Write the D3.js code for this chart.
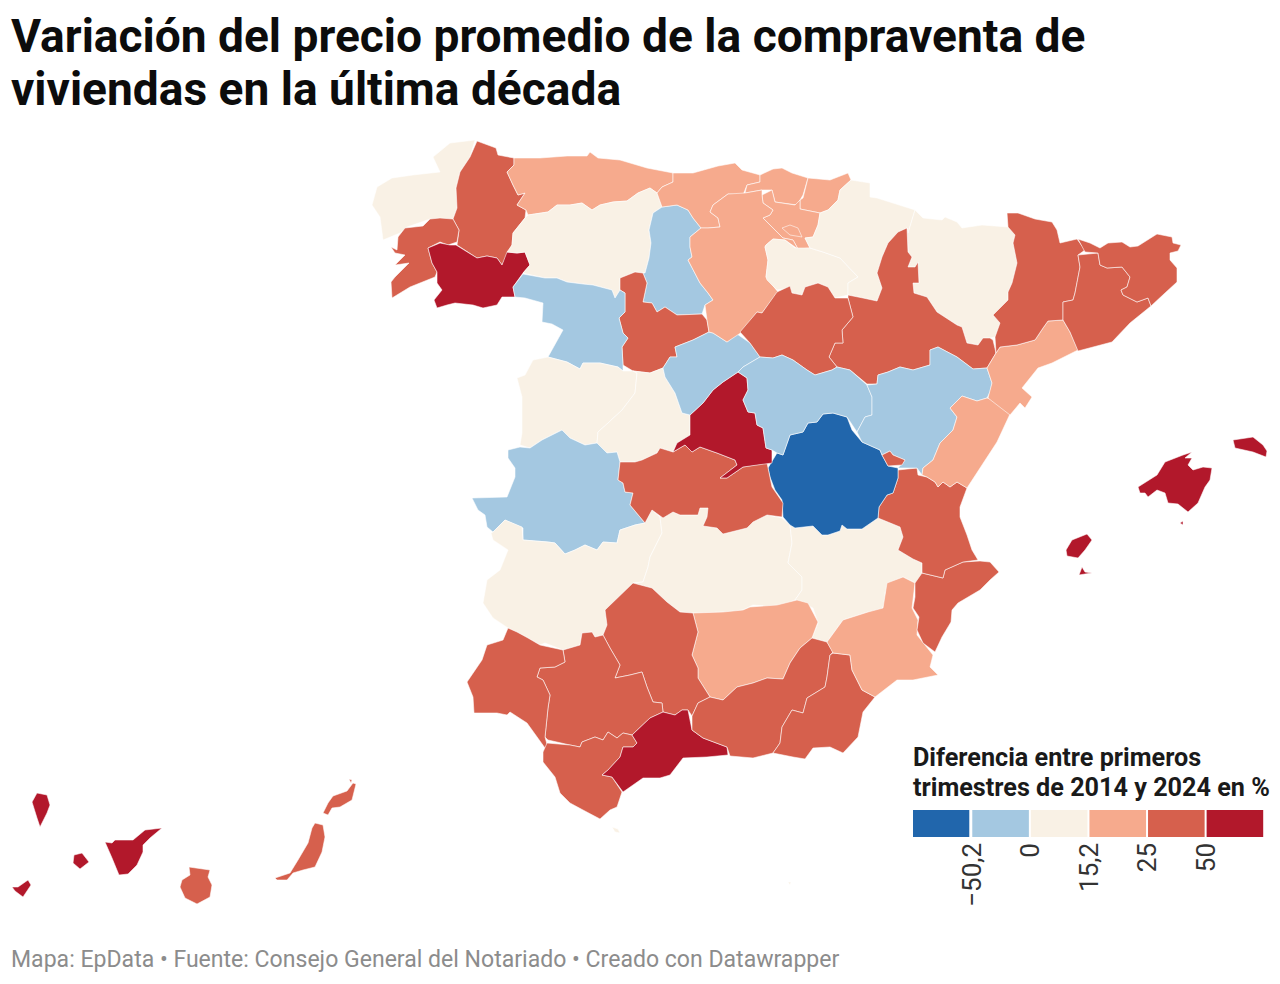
<!DOCTYPE html>
<html>
<head>
<meta charset="utf-8">
<script src="https://cdn.jsdelivr.net/npm/d3@7"></script>
<style>
  html, body { margin: 0; padding: 0; background: #fff; }
  svg { display: block; font-family: Roboto, sans-serif; }
</style>
</head>
<body>
<div class="render"></div>
<script>
// textos
var titleLines = ['Variación del precio promedio de la compraventa de', 'viviendas en la última década'];
var legendLines = ['Diferencia entre primeros', 'trimestres de 2014 y 2024 en %'];
var sourceLine = 'Mapa: EpData • Fuente: Consejo General del Notariado • Creado con Datawrapper';

// leyenda
var thresholds = [-50.2, 0, 15.2, 25, 50];
var thresholdLabels = ['−50,2', '0', '15,2', '25', '50'];
var binColors = ['#2166ac', '#a4c8e1', '#f9f1e5', '#f6aa8d', '#d6604d', '#b2182b'];

// provincias, variación estimada (%) a partir del color
var provinces = ['A Coruña', 'Lugo', 'Pontevedra', 'Ourense', 'Asturias', 'León', 'Palencia', 'Valladolid', 'Zamora',
  'Salamanca', 'Ávila', 'Cáceres', 'Badajoz', 'Ciudad Real', 'Albacete', 'Jaén', 'Córdoba', 'Sevilla', 'Huelva', 'Cádiz',
  'Málaga', 'Granada', 'Almería', 'Murcia', 'Alicante', 'Valencia', 'Cuenca', 'Toledo', 'Madrid', 'Segovia', 'Cantabria',
  'Bizkaia', 'Gipuzkoa', 'Álava', 'Burgos', 'La Rioja', 'Navarra', 'Huesca', 'Zaragoza', 'Soria', 'Guadalajara', 'Teruel',
  'Rincón de Ademuz', 'Castellón', 'Tarragona', 'Lleida', 'Barcelona', 'Girona', 'Condado de Treviño', 'La Palma', 'Tenerife',
  'La Gomera', 'El Hierro', 'Gran Canaria', 'Fuerteventura', 'Lanzarote', 'Baleares', 'Ceuta', 'Melilla'];

var provinceValues = [9, 31, 34, 55, 21, 7, -12, 28, -8, 6, 11, -14, 5, 3, 10, 18, 30, 41, 33, 29,
  62, 36, 38, 20, 44, 39, -52, 27, 56, -19, 23, 19, 22, 17, 16, 12, 13, 8, 26, 30, -6, -11,
  35, 20, 21, 37, 42, 46, 16, 57, 58, 54, 52, 40, 43, 45, 72, 9, 8];

var provinceOutlines = [
  ['475,140 450,143 433,157 440,172 413,175 392,178 377,187 372,205 380,217 383,240 400,233 407,227 430,219 453,219 457,208 456,188 460,172 470,157'],
  ['477,141 496,148 498,155 514,158 514,165 507,172 513,185 518,195 525,193 517,205 526,210 525,218 513,233 512,245 502,265 497,258 487,256 477,258 457,245 459,230 453,219 457,208 456,188 460,172 470,157'],
  ['453,219 440,218 430,219 423,226 405,228 398,237 397,250 391,247 395,253 405,255 395,265 409,263 395,277 391,282 392,298 410,287 435,277 437,272 432,263 428,248 440,242 448,245 457,242 459,230'],
  ['428,248 440,243 450,245 456,245 477,258 487,256 497,258 502,265 507,252 517,253 525,252 530,265 523,273 513,287 515,297 502,297 497,305 483,308 473,305 455,303 447,305 437,308 434,300 442,290 437,283 437,272 432,263'],
  ['514,158 540,158 567,156 587,156 590,152 598,158 620,160 647,168 673,173 673,182 662,187 657,193 650,188 638,193 627,201 613,202 600,205 592,210 582,203 570,205 557,205 548,212 528,215 526,210 517,205 525,193 518,195 513,185 507,172 514,165'],
  ['528,215 548,212 557,205 570,205 582,203 592,210 600,205 613,202 627,201 638,193 650,188 657,193 662,207 653,213 649,230 651,243 649,258 645,273 635,272 620,278 620,290 615,298 612,290 593,285 583,284 567,282 557,278 545,278 527,274 523,273 530,265 525,252 517,253 507,252 512,245 513,233 525,218'],
  ['662,207 677,205 688,210 693,218 701,228 690,237 690,247 692,257 688,260 700,283 708,293 713,300 705,305 702,314 677,315 665,307 657,312 652,303 643,302 647,283 643,273 645,273 649,258 651,243 649,230 653,213'],
  ['635,272 643,273 647,283 643,302 652,303 657,312 665,307 677,315 702,314 707,320 709,332 693,340 675,347 677,357 670,357 663,368 650,373 633,371 623,365 622,347 628,338 623,333 619,318 625,312 625,293 620,290 620,278'],
  ['523,274 545,278 557,278 567,282 583,284 593,285 612,290 615,298 620,290 625,293 625,312 619,318 623,333 628,338 622,347 623,365 623,371 618,367 600,363 583,363 580,369 567,362 548,357 563,330 552,324 542,322 543,303 525,298 515,297 513,287'],
  ['548,357 567,362 580,369 583,363 600,363 618,367 623,371 633,371 637,373 635,393 622,410 608,423 598,432 597,443 585,445 570,438 562,430 542,440 530,448 520,445 522,433 522,397 517,378 525,375 533,360'],
  ['633,371 650,373 663,368 665,377 675,393 682,413 690,415 690,435 677,443 673,452 660,448 657,453 642,460 635,462 620,462 617,452 607,453 597,443 598,432 608,423 622,410 635,393 637,373'],
  ['562,430 570,438 585,445 597,443 607,453 617,452 620,462 618,480 623,483 625,492 633,493 630,505 645,523 635,525 620,530 617,543 603,542 597,550 585,545 575,550 565,554 555,543 548,542 523,540 523,528 505,520 493,532 487,527 485,515 478,510 472,498 507,497 515,477 515,468 508,458 508,450 520,447 530,448 542,440'],
  ['491,533 493,532 505,520 522,527 523,540 548,542 555,543 565,554 575,550 585,545 597,550 603,542 617,543 620,530 635,525 645,523 652,510 660,517 662,533 650,557 648,567 643,582 633,583 605,610 607,625 603,635 595,637 592,632 582,633 580,645 563,650 545,643 540,645 528,638 517,632 508,628 493,618 483,603 487,580 500,570 508,550 493,540'],
  ['660,517 673,512 680,515 698,515 700,508 708,508 707,517 703,526 717,528 723,534 747,528 753,522 767,515 782,518 790,525 792,543 788,563 802,577 802,590 795,600 780,607 753,605 743,610 733,612 693,613 680,612 667,602 652,588 633,583 643,582 648,567 650,557 662,533'],
  ['790,525 795,528 813,526 822,535 828,535 840,531 842,525 847,529 862,529 878,518 900,527 903,537 898,550 913,559 922,563 922,573 922,580 915,583 903,577 892,582 885,592 885,603 880,613 868,612 843,620 827,642 812,638 818,623 813,608 795,600 802,590 802,577 788,563 792,543'],
  ['693,613 723,612 743,610 750,607 777,605 797,600 808,603 818,622 812,638 800,648 790,663 783,679 767,678 753,683 737,687 723,700 710,697 698,678 698,668 692,655 698,632'],
  ['633,583 652,588 667,602 680,612 693,613 698,632 692,655 698,668 698,678 710,697 698,703 692,716 688,710 682,710 675,715 663,712 662,703 653,702 647,687 642,672 630,675 615,678 620,665 610,648 603,635 607,625 605,610'],
  ['580,645 582,633 592,632 595,637 603,635 610,648 620,665 615,678 630,675 642,672 647,687 653,702 662,703 663,712 650,718 632,735 623,733 617,738 608,732 603,740 595,737 582,742 580,747 570,745 548,740 545,737 548,708 550,695 543,680 537,677 540,668 555,667 565,662 563,650'],
  ['508,628 517,632 528,638 540,645 563,650 565,662 555,667 540,668 537,677 543,680 550,695 548,708 545,737 548,748 545,748 527,723 510,712 507,715 497,713 474,713 473,697 467,682 482,660 487,645 503,640'],
  ['547,743 570,745 580,747 582,742 595,737 603,740 608,732 617,738 623,733 632,735 637,743 633,747 623,747 620,757 608,770 602,775 612,777 622,792 617,807 610,810 600,819 583,810 570,803 560,793 555,777 543,762 543,752'],
  ['663,712 675,715 682,710 688,710 692,730 703,738 727,747 728,755 707,757 683,758 670,775 660,778 643,778 623,792 612,777 602,775 608,770 620,757 623,747 633,747 637,743 632,735 650,718'],
  ['698,703 710,697 723,700 737,687 753,683 767,678 783,679 790,663 800,648 812,638 827,642 833,652 830,655 827,677 825,687 807,698 803,713 792,710 782,727 780,743 773,753 753,758 730,756 727,747 703,738 692,730 692,716'],
  ['833,653 850,655 852,670 862,690 875,697 863,712 858,737 843,753 830,747 813,748 805,759 793,757 773,753 780,743 782,727 792,710 803,713 807,698 825,687 827,677 830,655'],
  ['827,642 843,620 868,612 883,608 887,583 903,577 915,583 912,608 918,620 917,635 933,655 930,667 938,675 913,680 897,680 875,697 862,690 852,670 850,655 833,653'],
  ['915,583 922,573 943,578 945,570 963,562 980,561 990,562 999,572 990,580 980,590 958,603 952,610 951,622 942,637 935,652 923,643 917,630 919,617 913,608 915,597'],
  ['898,470 917,468 918,475 927,477 935,482 938,487 943,482 950,487 957,482 967,488 960,507 960,517 967,535 972,550 978,560 963,562 945,570 943,578 922,573 922,563 913,559 898,550 903,537 900,527 878,518 879,507 887,495 893,493 898,478'],
  ['768,468 777,453 783,455 790,435 803,432 808,423 817,422 823,414 833,413 847,417 852,430 862,442 880,450 882,455 888,466 898,468 898,478 893,493 887,495 879,507 878,518 862,529 847,529 842,525 840,531 828,535 822,535 813,526 795,528 790,525 783,517 782,500 775,490 770,477'],
  ['620,462 635,462 642,460 657,453 660,448 673,452 685,445 692,452 700,447 717,453 735,460 737,465 720,478 727,478 743,467 767,463 772,487 783,503 782,517 767,515 753,522 747,528 723,534 717,528 703,526 707,517 708,508 700,508 698,515 680,515 673,512 663,518 652,510 645,523 630,505 633,493 625,492 623,483 618,480'],
  ['673,452 677,443 690,435 690,415 703,403 713,390 723,382 738,372 747,378 748,390 743,400 748,412 755,413 757,425 763,428 766,448 772,450 772,463 743,467 727,478 720,478 737,465 735,460 717,453 700,447 692,452 685,445'],
  ['663,368 670,357 677,357 675,347 693,340 709,332 713,333 727,342 737,334 750,343 760,357 743,367 738,372 723,382 713,390 703,403 690,415 682,413 675,393 665,377'],
  ['673,173 693,173 718,166 735,163 742,170 760,175 760,182 747,185 743,195 728,194 713,205 710,212 718,218 720,227 708,228 701,228 693,218 688,210 677,205 662,207 657,193 662,187 673,182'],
  ['760,175 773,169 782,168 792,173 808,178 803,195 797,205 775,202 772,190 762,190 745,193 747,185 760,182'],
  ['808,178 830,180 848,173 851,180 840,190 838,200 828,210 820,213 800,209 800,200 803,198'],
  ['775,202 795,205 800,200 800,209 820,213 818,225 813,237 805,238 810,248 798,249 793,240 783,238 763,218 770,215 773,210 763,203 762,195 772,190'],
  ['701,228 708,228 720,227 718,218 710,212 713,205 728,194 745,193 762,190 762,195 763,203 773,210 770,215 763,218 783,238 793,240 798,249 785,240 773,239 766,245 765,247 768,260 766,277 778,292 762,313 757,312 742,332 727,342 713,333 709,332 707,320 705,305 713,300 708,293 700,283 688,260 692,257 690,247 690,237'],
  ['766,245 773,239 785,240 795,248 810,248 823,252 840,258 858,277 848,283 848,295 835,298 828,287 818,283 805,287 802,295 791,293 788,288 777,290 767,280 766,277 768,260 765,247'],
  ['851,180 870,183 870,197 877,198 915,210 908,233 907,228 898,232 888,243 882,257 877,273 882,288 877,301 863,298 848,295 848,283 858,277 840,258 823,252 810,248 805,238 813,237 818,225 820,213 828,210 838,200 840,190'],
  ['915,210 923,218 942,220 945,217 957,222 962,228 982,225 1008,227 1015,235 1013,243 1017,263 1012,283 1008,292 1008,300 993,315 1000,323 995,337 990,338 983,338 978,345 967,343 962,327 957,325 937,312 927,297 914,293 913,283 919,283 918,262 915,267 908,267 912,257 908,252 907,228 908,233'],
  ['907,228 898,232 888,243 882,257 877,273 882,288 877,301 863,298 848,295 848,298 853,317 842,330 843,343 835,343 829,357 837,367 850,370 867,384 877,384 878,375 888,372 900,367 913,370 930,365 930,350 938,347 957,357 973,369 987,368 996,353 993,340 990,338 983,338 978,345 967,343 962,327 957,325 937,312 927,297 914,293 913,283 919,283 918,262 915,267 908,267 912,257 908,252'],
  ['777,292 790,286 792,293 802,295 805,287 818,283 828,287 835,298 848,298 853,317 842,330 843,343 835,343 829,357 837,367 832,370 815,375 807,370 793,360 782,355 773,358 760,357 750,343 740,332 757,312 762,313'],
  ['760,357 773,358 782,355 793,360 807,370 815,375 832,370 837,367 850,370 867,385 872,397 872,415 865,417 857,432 847,417 833,413 823,414 817,422 808,423 803,432 790,435 783,455 777,453 772,450 766,448 763,428 757,425 755,413 748,412 743,400 748,390 747,378 738,372 743,367'],
  ['867,385 877,384 878,375 888,372 900,367 913,370 930,365 930,350 938,347 957,357 973,369 987,368 992,383 990,392 987,398 977,401 962,396 950,408 957,417 953,430 940,443 933,460 923,468 922,475 917,468 898,468 905,460 893,455 890,451 882,455 880,450 862,442 857,432 865,417 872,415 872,397'],
  ['882,455 890,451 893,455 905,460 902,465 888,466'],
  ['922,475 923,468 933,460 940,443 953,430 957,417 950,408 962,396 977,401 987,398 993,400 1010,414 997,442 982,465 967,488 957,482 950,487 943,482 938,487 935,482 927,477'],
  ['987,368 996,353 1000,347 1017,345 1035,340 1043,328 1048,321 1063,320 1070,332 1078,350 1052,363 1038,368 1022,388 1032,397 1025,408 1020,403 1010,415 988,398 992,383'],
  ['1007,213 1018,213 1035,219 1052,222 1057,230 1060,243 1077,239 1085,250 1078,255 1080,267 1075,293 1073,300 1063,302 1063,320 1048,321 1043,328 1035,340 1017,345 1000,347 996,353 995,337 1000,323 993,315 1008,300 1008,292 1012,283 1017,263 1013,243 1015,235 1008,227'],
  ['1078,255 1098,253 1100,265 1107,268 1122,267 1130,277 1127,287 1121,290 1123,295 1137,302 1148,298 1151,306 1130,323 1112,342 1078,351 1070,332 1063,320 1063,302 1073,300 1075,293 1080,267'],
  ['1078,239 1090,243 1100,248 1108,243 1122,242 1130,247 1138,246 1157,234 1172,237 1173,243 1181,245 1178,251 1170,253 1170,260 1177,268 1177,282 1165,293 1151,306 1148,298 1137,302 1123,295 1121,290 1127,287 1130,277 1122,267 1107,268 1100,265 1098,253 1085,252'],
  ['782,228 790,225 798,228 802,237 790,235'],
  ['32,802 37,793 47,795 50,805 47,813 40,827 37,818'],
  ['105,842 112,843 115,840 133,840 145,830 162,828 150,838 143,845 143,852 137,865 128,874 119,875 112,858'],
  ['74,855 82,853 89,862 80,869 73,863'],
  ['12,887 18,887 28,880 31,885 23,897 15,891'],
  ['189,867 210,870 208,877 212,885 210,897 197,904 185,898 180,887 182,880 190,875'],
  ['315,823 323,825 325,837 322,852 315,867 303,870 293,873 287,880 277,880 275,878 290,873 298,860 308,843 312,828'],
  ['323,813 328,803 333,796 347,791 353,783 356,784 352,800 340,807 332,808 328,815', '349,779 352,780 351,783'],
  ['1138,487 1157,475 1165,462 1183,455 1192,452 1185,458 1192,458 1188,465 1193,470 1203,467 1212,468 1210,480 1205,487 1198,503 1188,512 1178,504 1168,503 1165,493 1157,490 1148,497 1145,493 1140,493',
   '1180,523 1183,521 1183,525', '1233,440 1253,437 1263,445 1267,451 1266,457 1253,452 1235,448',
   '1066,550 1072,540 1087,534 1092,540 1085,550 1078,558 1067,556', '1079,575 1082,567 1085,572 1092,573 1085,574'],
  ['612,827 618,829 620,833 615,832'],
  ['788,882 791,882 790,885']
];

function parseRing(ring) {
  var points = ring.split(' ').map(function(p) { return p.split(',').map(Number); });
  points.push(points[0]);
  return [points];
}

var features = provinces.map(function(name, i) {
  return {
    type: 'Feature',
    properties: { name: name, value: provinceValues[i] },
    geometry: { type: 'MultiPolygon', coordinates: provinceOutlines[i].map(parseRing) }
  };
});

var width = 1280, height = 984;
var color = d3.scaleThreshold().domain(thresholds).range(binColors);
var path = d3.geoPath(d3.geoIdentity());

var svg = d3.select('.render').append('svg')
  .attr('width', width)
  .attr('height', height);

svg.append('g').selectAll('path')
  .data(features)
  .enter().append('path')
  .attr('d', path)
  .attr('fill', function(d) { return color(d.properties.value); })
  .attr('stroke', '#fff')
  .attr('stroke-opacity', 0.7)
  .attr('stroke-width', 0.8)
  .attr('stroke-linejoin', 'round');

svg.append('g').selectAll('text')
  .data(titleLines)
  .enter().append('text')
  .attr('x', 11)
  .attr('y', function(d, i) { return 52 + i * 53; })
  .attr('font-size', 46.1)
  .attr('font-weight', 700)
  .attr('fill', '#0c0c0c')
  .text(function(d) { return d; });

svg.append('g').selectAll('text')
  .data(legendLines)
  .enter().append('text')
  .attr('x', 913)
  .attr('y', function(d, i) { return 766 + i * 30; })
  .attr('font-size', 25.2)
  .attr('font-weight', 700)
  .attr('fill', '#1a1a1a')
  .text(function(d) { return d; });

// leyenda por clases
var legendX = d3.scaleLinear().domain([0, binColors.length]).range([912.5, 1264]);

svg.append('g').selectAll('rect')
  .data(binColors)
  .enter().append('rect')
  .attr('x', function(d, i) { return legendX(i) + (i ? 1.2 : 0.5); })
  .attr('y', 810)
  .attr('width', function(d, i) { return legendX(i + 1) - legendX(i) - (i ? 2 : 2.3); })
  .attr('height', 27)
  .attr('fill', function(d) { return d; });

var legendAxis = d3.axisBottom(legendX)
  .tickValues(d3.range(1, binColors.length))
  .tickSize(0)
  .tickFormat(function(d, i) { return thresholdLabels[i]; });

var axisG = svg.append('g')
  .attr('transform', 'translate(0,843)')
  .call(legendAxis);
axisG.select('.domain').remove();
axisG.selectAll('text')
  .attr('font-family', 'Roboto, sans-serif')
  .attr('font-size', 26)
  .attr('fill', '#333')
  .attr('text-anchor', 'end')
  .attr('dy', '0.35em')
  .attr('y', 0)
  .attr('transform', 'rotate(-90)');

svg.append('text')
  .attr('x', 11)
  .attr('y', 967)
  .attr('font-size', 23.05)
  .attr('fill', '#8c8c8c')
  .text(sourceLine);
</script>
</body>
</html>
